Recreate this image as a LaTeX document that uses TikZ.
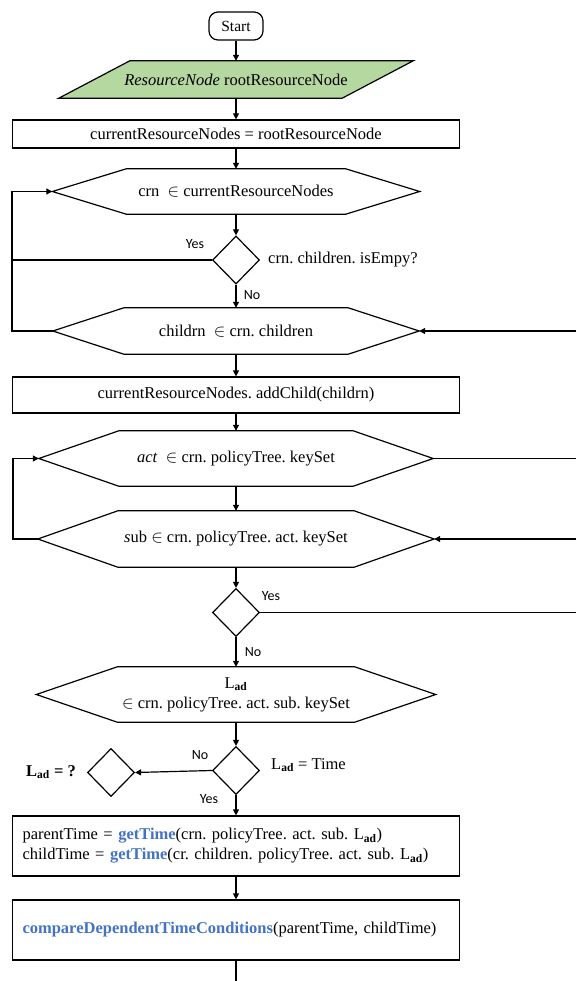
\documentclass[tikz,border=0pt]{standalone}
\usepackage{fontspec}
\usepackage{amstext}
\setmainfont{Liberation Serif}
\newfontfamily\labelfont{Carlito}
\usetikzlibrary{shapes.geometric,arrows.meta,calc,backgrounds}
\definecolor{inputgreen}{HTML}{B5D7A0}
\definecolor{fnblue}{HTML}{4472C4}
\frenchspacing
\newcommand\fncall[1]{\textcolor{fnblue}{\textbf{#1}}}
\newcommand\Lad{L$_{\text{\bfseries ad}}$}
% hexagonal loop outline around a (borderless) node: name, chamfer offset
\newcommand\hexoutline[2]{%
  \draw[flowline] (#1.west) -- ($(#1.north west)+(#2,0)$) -- ($(#1.north east)+(-#2,0)$)
    -- (#1.east) -- ($(#1.south east)+(-#2,0)$) -- ($(#1.south west)+(#2,0)$) -- cycle;}

\begin{document}
\begin{tikzpicture}[x=1pt,y=-1pt,
  every node/.style={font=\fontsize{16.5}{20}\selectfont},
  flowline/.style={line width=1.2pt,line join=miter},
  arr/.style={line width=1.2pt,-{Triangle[length=6pt,width=6pt]}},
  terminal/.style={draw,line width=1.2pt,rounded corners=9pt,minimum width=54pt,minimum height=28pt,inner sep=0pt,font=\fontsize{15.5}{18}\selectfont},
  iobox/.style={inner sep=0pt,minimum width=354pt,minimum height=37pt},
  procbox/.style={draw,line width=1.2pt,minimum width=447pt,inner sep=0pt},
  leftbox/.style={draw,line width=1.2pt,text width=427pt,inner xsep=10pt,inner ysep=0pt,align=left},
  loopbox/.style={inner sep=0pt,align=center},
  decision/.style={diamond,draw,line width=1.2pt,minimum width=47pt,minimum height=48pt,inner sep=0pt},
  lbl/.style={font=\labelfont\fontsize{14}{16}\selectfont,inner sep=0pt},
  cond/.style={inner sep=0pt}
]
\useasboundingbox (0,0) rectangle (576,981);

% ---- nodes ----
\node[terminal] (start) at (236,26) {Start};
\node[iobox] (inp) at (236,79.5) {\textit{ResourceNode} rootResourceNode};
\node[procbox,minimum height=28pt] (b1) at (236,134) {currentResourceNodes = rootResourceNode};
\node[loopbox,minimum width=367pt,minimum height=45pt] (h1) at (236,191.5) {crn\enspace$\in$ currentResourceNodes};
\node[decision] (d1) at (236,260) {};
\node[loopbox,minimum width=366pt,minimum height=46pt] (h2) at (236,331) {childrn\enspace$\in$ crn. children};
\node[procbox,minimum height=36pt] (b2) at (236,395) {currentResourceNodes. addChild(childrn)};
\node[loopbox,minimum width=394pt,minimum height=55pt] (h3) at (236,458.5) {\textit{act}\enspace$\in$ crn. policyTree. keySet};
\node[loopbox,minimum width=396pt,minimum height=56pt] (h4) at (236,539) {\textit{s}ub $\in$ crn. policyTree. act. keySet};
\node[decision] (d2) at (236,612.5) {};
\node[loopbox,minimum width=399pt,minimum height=55pt] (h5) at (236,694.5) {\Lad\\$\in$ crn. policyTree. act. sub. keySet};
\node[decision] (d3) at (236,770.5) {};
\node[decision] (d4) at (111,772.5) {};
\node[leftbox,minimum height=60pt] (b3) at (236,846) {parentTime = \fncall{getTime}(crn. policyTree. act. sub. \Lad)\\childTime = \fncall{getTime}(cr. children. policyTree. act. sub. \Lad)};
\node[leftbox,minimum height=60pt] (b4) at (236,930) {\fncall{compareDependentTimeConditions}(parentTime, childTime)};

% ---- hexagon and parallelogram outlines ----
\hexoutline{h1}{74}
\hexoutline{h2}{71}
\hexoutline{h3}{80}
\hexoutline{h4}{80}
\hexoutline{h5}{81}
\begin{scope}[on background layer]
  \draw[flowline,fill=inputgreen] ($(inp.north west)+(71,0)$) -- (inp.north east)
    -- ($(inp.south east)+(-71,0)$) -- (inp.south west) -- cycle;
\end{scope}

% ---- texts beside decisions ----
\node[lbl] (yes1) at (195,244) {Yes};
\node[cond,anchor=west] (c1) at (268,260) {crn. children. isEmpy?};
\node[lbl] (no1) at (252,295) {No};
\node[lbl] (yes2) at (271,596) {Yes};
\node[lbl] (no2) at (253,652) {No};
\node[cond,anchor=west] (c3) at (271,765) {\Lad\ = Time};
\node[lbl] (no3) at (200,755) {No};
\node[cond,anchor=east] (c4) at (76,772) {\textbf{\Lad\ = ?}};
\node[lbl] (yes3) at (209,799) {Yes};

% ---- loop rails ----
\coordinate (railA) at (12,0);
\coordinate (railB) at (13,0);
\coordinate (rim) at (576,0);
\coordinate (tail) at (236,981);

% ---- connectors ----
\draw[arr] (start) -- (inp);
\draw[arr] (inp) -- (b1);
\draw[arr] (b1) -- (h1);
\draw[arr] (h1) -- (d1);
\draw[arr] (d1) -- (h2);
\draw[flowline] (d1.west) -- (d1.west -| railA);
\draw[arr] (h2.west) -- (h2.west -| railA) -- (h1.west -| railA) -- (h1.west);
\draw[arr] (h2.east -| rim) -- (h2.east);
\draw[arr] (h2) -- (b2);
\draw[arr] (b2) -- (h3);
\draw[flowline] (h3.east) -- (h3.east -| rim);
\draw[arr] (h3) -- (h4);
\draw[arr] (h4.west) -- (h4.west -| railB) -- (h3.west -| railB) -- (h3.west);
\draw[arr] (h4.east -| rim) -- (h4.east);
\draw[arr] (h4) -- (d2);
\draw[flowline] (d2.east) -- (d2.east -| rim);
\draw[arr] (d2) -- (h5);
\draw[arr] (h5) -- (d3);
\draw[arr] (d3.west) -- (d4.east);
\draw[arr] (d3) -- (b3);
\draw[arr] (b3) -- (b4);
\draw[flowline] (b4.south) -- (tail);
\end{tikzpicture}
\end{document}
